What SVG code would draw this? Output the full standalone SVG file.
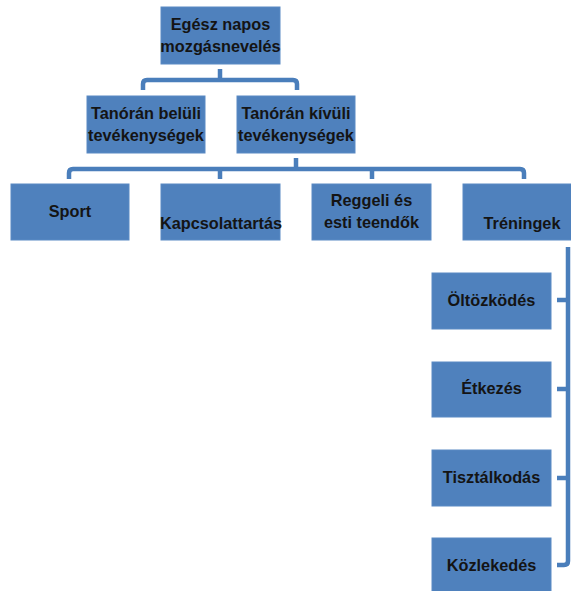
<svg xmlns="http://www.w3.org/2000/svg" width="571" height="591" viewBox="0 0 571 591">
<style>
.box{fill:#4f81bd;stroke:#5a8ac4;stroke-width:1}
.t{font-family:"Liberation Sans",Arial,sans-serif;font-weight:bold;font-size:16.3px;fill:#141414;text-anchor:middle}
.c{fill:none;stroke:#4a7ebb;stroke-width:4.5;stroke-linejoin:round;stroke-linecap:butt}
</style>
<rect width="571" height="591" fill="#ffffff"/>
<g id="connectors">
<path class="c" d="M220 69 V80"/>
<path class="c" d="M143 90 V84 Q143 80 147 80 H293 Q297 80 297 84 V90"/>
<path class="c" d="M296 158 V169"/>
<path class="c" d="M69 179 V173 Q69 169 73 169 H520 Q524 169 524 173 V179"/>
<path class="c" d="M220 169 V179"/>
<path class="c" d="M372 169 V179"/>
<path class="c" d="M568 247 V561 Q568 565 564 565 H557"/>
<path class="c" d="M557 300 H568"/>
<path class="c" d="M557 389 H568"/>
<path class="c" d="M557 478 H568"/>
</g>
<g id="n-root"><rect class="box" x="161" y="7" width="119" height="57"/><text class="t" x="220.5" y="30">Egész napos</text><text class="t" x="220.5" y="52">mozgásnevelés</text></g>
<g id="n-belul"><rect class="box" x="87" y="96" width="118" height="57"/><text class="t" x="146" y="119">Tanórán belüli</text><text class="t" x="146" y="141">tevékenységek</text></g>
<g id="n-kivul"><rect class="box" x="237" y="96" width="118" height="57"/><text class="t" x="296" y="119">Tanórán kívüli</text><text class="t" x="296" y="141">tevékenységek</text></g>
<g id="n-sport"><rect class="box" x="11" y="184" width="118" height="56"/><text class="t" x="70" y="217">Sport</text></g>
<g id="n-kapcs"><rect class="box" x="161" y="184" width="119" height="56"/><text class="t" x="221" y="229">Kapcsolattartás</text></g>
<g id="n-reggeli"><rect class="box" x="312" y="184" width="119" height="56"/><text class="t" x="371.5" y="206">Reggeli és</text><text class="t" x="371.5" y="228">esti teendők</text></g>
<g id="n-trening"><rect class="box" x="463" y="184" width="118" height="56"/><text class="t" x="522" y="229">Tréningek</text></g>
<g id="n-oltozkodes"><rect class="box" x="432" y="273" width="119" height="56"/><text class="t" x="491.5" y="306">Öltözködés</text></g>
<g id="n-etkezes"><rect class="box" x="432" y="362" width="119" height="55"/><text class="t" x="491.5" y="394">Étkezés</text></g>
<g id="n-tisztalkodas"><rect class="box" x="432" y="450" width="119" height="56"/><text class="t" x="491.5" y="483">Tisztálkodás</text></g>
<g id="n-kozlekedes"><rect class="box" x="432" y="538" width="119" height="56"/><text class="t" x="491.5" y="571">Közlekedés</text></g>
</svg>
